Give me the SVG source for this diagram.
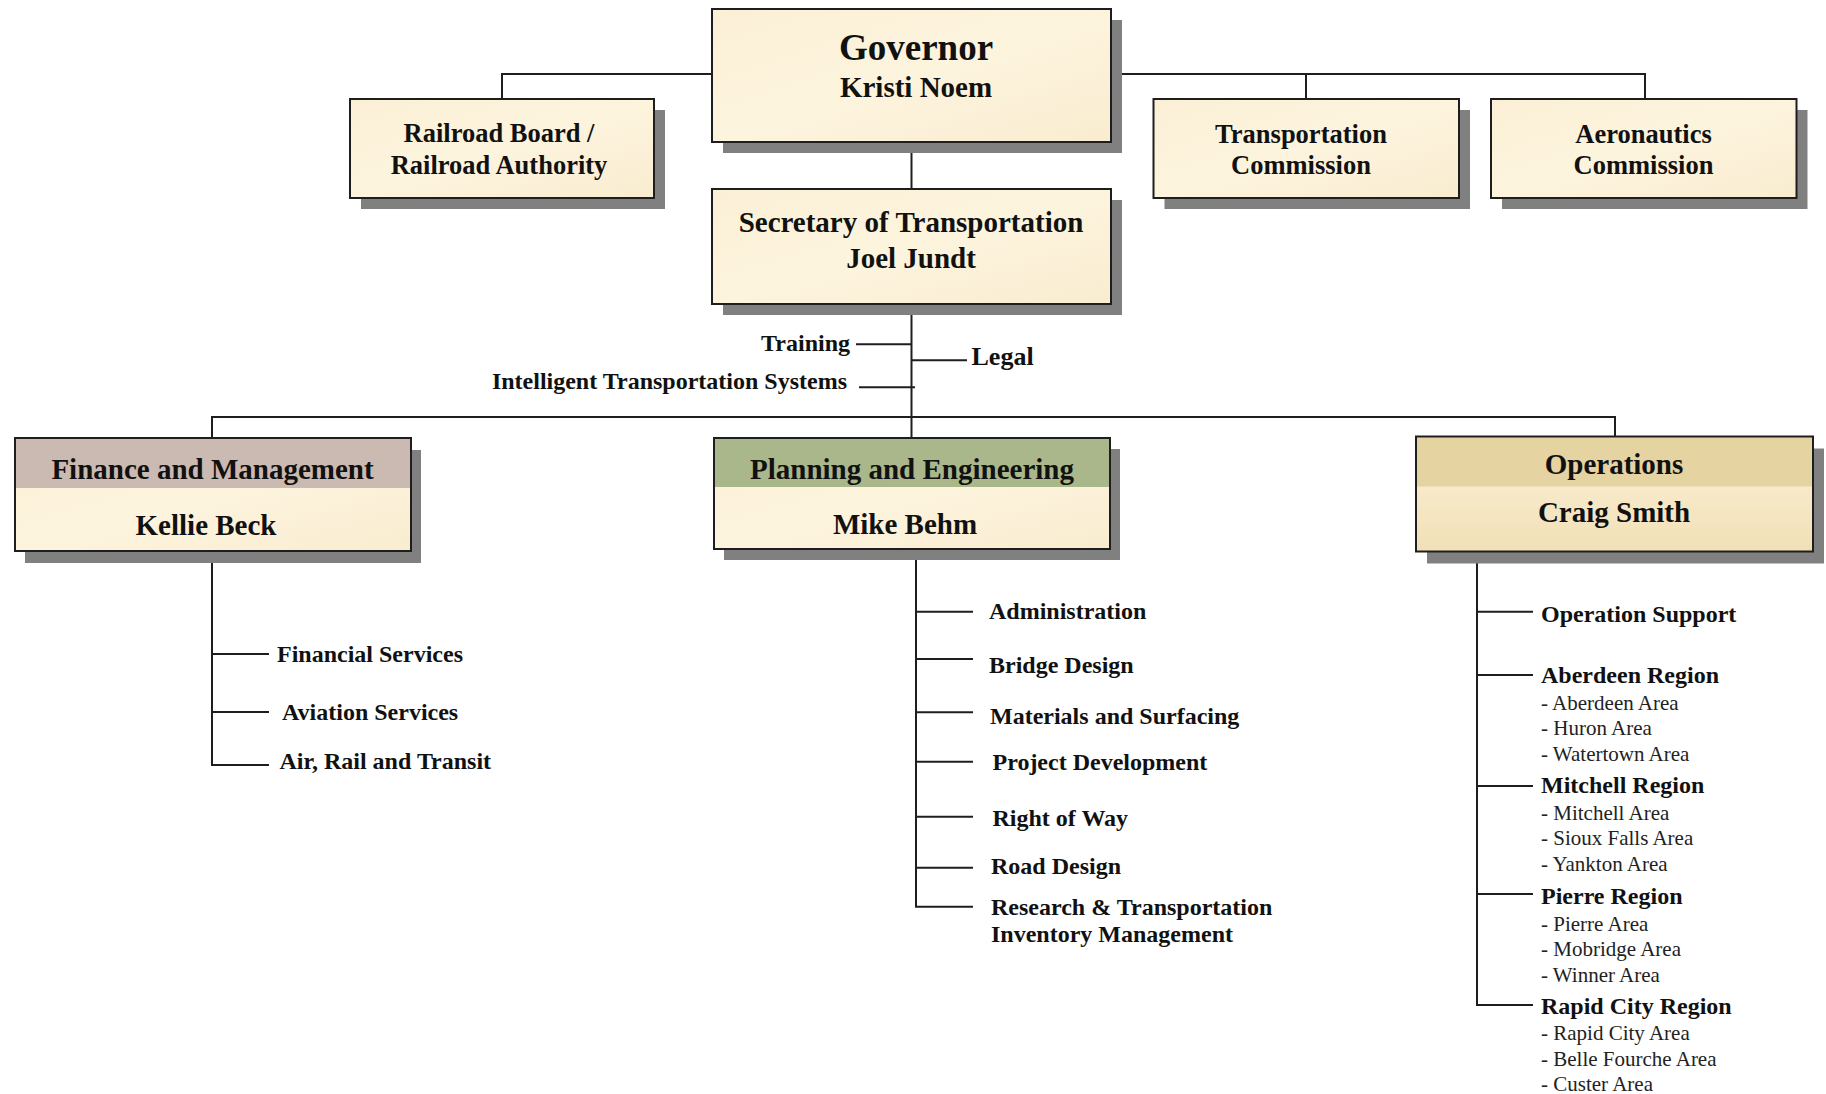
<svg xmlns="http://www.w3.org/2000/svg" width="1826" height="1094" viewBox="0 0 1826 1094">
<defs>
<linearGradient id="cream" x1="0" y1="0" x2="1" y2="1">
<stop offset="0" stop-color="#fbf0d6"/>
<stop offset="0.5" stop-color="#fdf4de"/>
<stop offset="1" stop-color="#f9ecd0"/>
</linearGradient>
<linearGradient id="opsBody" x1="0" y1="0" x2="0" y2="1">
<stop offset="0" stop-color="#fdf2da"/>
<stop offset="1" stop-color="#f1e0b6"/>
</linearGradient>
<style>
.shadow{fill:#808080;}
.box{fill:url(#cream);stroke:#1e1e1e;stroke-width:2;}
.frame{fill:none;stroke:#1e1e1e;stroke-width:2;}
.t{font-family:"Liberation Serif","Times New Roman",serif;font-weight:bold;fill:#111;}
.c{text-anchor:middle;}
.h1{font-size:37px;}
.h2{font-size:29px;}
.h3{font-size:26.5px;}
.item{font-size:24px;}
.sub{font-family:"Liberation Serif","Times New Roman",serif;font-size:21px;fill:#222;}
.conn{fill:none;stroke:#1e1e1e;stroke-width:2;}
</style>
</defs>
<rect width="1826" height="1094" fill="#ffffff"/>

<g id="connectors" class="conn">
<path d="M712,74 H502 V99"/>
<path d="M1111,74 H1645 V99"/>
<path d="M1306,74 V99"/>
<path d="M911.5,142 V189"/>
<path d="M911.5,304 V438"/>
<path d="M856,344.3 H911.5"/>
<path d="M911.5,360.3 H967"/>
<path d="M859,387.3 H915"/>
<path d="M212,438 V417 H1615 V436.5"/>
<path d="M212,551 V765 H269"/>
<path d="M212,654 H269"/>
<path d="M212,712 H269"/>
<path d="M916,549 V906.7 H973"/>
<path d="M916,611.7 H973"/>
<path d="M916,659 H973"/>
<path d="M916,712.3 H973"/>
<path d="M916,761.7 H973"/>
<path d="M916,816.7 H973"/>
<path d="M916,867.7 H973"/>
<path d="M1477,551.7 V1005 H1533"/>
<path d="M1477,611.7 H1533"/>
<path d="M1477,675 H1533"/>
<path d="M1477,786 H1533"/>
<path d="M1477,894 H1533"/>
</g>

<g id="governor">
<rect class="shadow" x="723" y="20" width="399" height="133"/>
<rect class="box" x="712" y="9" width="399" height="133"/>
<text class="t c h1" x="916" y="60">Governor</text>
<text class="t c h2" x="916" y="97">Kristi Noem</text>
</g>

<g id="railroad-board">
<rect class="shadow" x="361" y="110" width="304" height="99"/>
<rect class="box" x="350" y="99" width="304" height="99"/>
<text class="t c h3" x="499" y="142">Railroad Board /</text>
<text class="t c h3" x="499" y="174">Railroad Authority</text>
</g>

<g id="transportation-commission">
<rect class="shadow" x="1164.5" y="110" width="305.5" height="99"/>
<rect class="box" x="1153.5" y="99" width="305.5" height="99"/>
<text class="t c h3" x="1301" y="142.5">Transportation</text>
<text class="t c h3" x="1301" y="174">Commission</text>
</g>

<g id="aeronautics-commission">
<rect class="shadow" x="1502" y="110" width="305.5" height="99"/>
<rect class="box" x="1491" y="99" width="305.5" height="99"/>
<text class="t c h3" x="1643.5" y="142.5">Aeronautics</text>
<text class="t c h3" x="1643.5" y="174">Commission</text>
</g>

<g id="secretary">
<rect class="shadow" x="723" y="200" width="399" height="115"/>
<rect class="box" x="712" y="189" width="399" height="115"/>
<text class="t c h2" x="911" y="232">Secretary of Transportation</text>
<text class="t c h2" x="911" y="268">Joel Jundt</text>
</g>

<g id="staff-offices">
<text class="t item" x="850" y="351" text-anchor="end">Training</text>
<text class="t item" x="847" y="389" text-anchor="end">Intelligent Transportation Systems</text>
<text class="t" x="971.5" y="365" font-size="26px">Legal</text>
</g>

<g id="finance">
<rect class="shadow" x="25" y="450" width="396" height="113"/>
<rect x="15" y="438" width="396" height="113" fill="url(#cream)"/>
<rect x="15" y="438" width="396" height="50" fill="#cbbab2"/>
<rect class="frame" x="15" y="438" width="396" height="113"/>
<text class="t c h2" x="212.5" y="478.5">Finance and Management</text>
<text class="t c h2" x="206" y="535">Kellie Beck</text>
</g>

<g id="finance-units">
<text class="t item" x="277" y="662">Financial Services</text>
<text class="t item" x="282" y="720">Aviation Services</text>
<text class="t item" x="279.5" y="769">Air, Rail and Transit</text>
</g>

<g id="planning">
<rect class="shadow" x="724" y="449" width="396" height="111"/>
<rect x="714" y="438" width="396" height="111" fill="url(#cream)"/>
<rect x="714" y="438" width="396" height="49" fill="#a9b78a"/>
<rect class="frame" x="714" y="438" width="396" height="111"/>
<text class="t c h2" x="912" y="478.5">Planning and Engineering</text>
<text class="t c h2" x="905" y="533.5">Mike Behm</text>
</g>

<g id="planning-units">
<text class="t item" x="989" y="618.5">Administration</text>
<text class="t item" x="989" y="672.5">Bridge Design</text>
<text class="t item" x="990" y="723.5">Materials and Surfacing</text>
<text class="t item" x="992.5" y="770">Project Development</text>
<text class="t item" x="992.5" y="826">Right of Way</text>
<text class="t item" x="991" y="874">Road Design</text>
<text class="t item" x="991" y="914.5">Research &amp; Transportation</text>
<text class="t item" x="991" y="941.5">Inventory Management</text>
</g>

<g id="operations">
<rect class="shadow" x="1427" y="448.5" width="397" height="115"/>
<rect x="1416" y="436.5" width="397" height="115" fill="url(#opsBody)"/>
<rect x="1416" y="436.5" width="397" height="50" fill="#e5d3a1"/>
<rect class="frame" x="1416" y="436.5" width="397" height="115"/>
<text class="t c h2" x="1614" y="474">Operations</text>
<text class="t c h2" x="1614" y="521.5">Craig Smith</text>
</g>

<g id="operations-units">
<text class="t item" x="1541" y="621.5">Operation Support</text>
<text class="t item" x="1541" y="682.5">Aberdeen Region</text>
<text class="sub" x="1541" y="709.5">- Aberdeen Area</text>
<text class="sub" x="1541" y="735">- Huron Area</text>
<text class="sub" x="1541" y="761">- Watertown Area</text>
<text class="t item" x="1541" y="792.5">Mitchell Region</text>
<text class="sub" x="1541" y="819.5">- Mitchell Area</text>
<text class="sub" x="1541" y="845">- Sioux Falls Area</text>
<text class="sub" x="1541" y="870.5">- Yankton Area</text>
<text class="t item" x="1541" y="904">Pierre Region</text>
<text class="sub" x="1541" y="930.5">- Pierre Area</text>
<text class="sub" x="1541" y="956">- Mobridge Area</text>
<text class="sub" x="1541" y="982">- Winner Area</text>
<text class="t item" x="1541" y="1013.5">Rapid City Region</text>
<text class="sub" x="1541" y="1040">- Rapid City Area</text>
<text class="sub" x="1541" y="1065.5">- Belle Fourche Area</text>
<text class="sub" x="1541" y="1090.5">- Custer Area</text>
</g>
</svg>
